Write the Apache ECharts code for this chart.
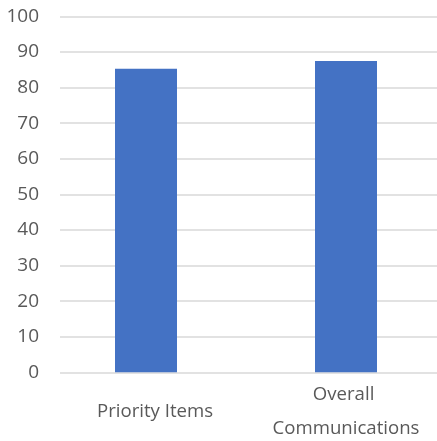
<!DOCTYPE html>
<html><head><meta charset="utf-8">
<script src="https://cdn.jsdelivr.net/npm/echarts@6/dist/echarts.min.js"></script>
<style>html,body{margin:0;padding:0;background:#fff}#c{width:437px;height:441px}</style>
</head><body><div id="c"></div>
<script>
const categories = ['Priority Items', 'Overall Communications'];
const values = [85.3, 87.5];
const yMin = 0, yMax = 100, yStep = 10;

const chart = echarts.init(document.getElementById('c'));
const font = 'Open Sans';
chart.setOption({
  animation: false,
  grid: [
    {left: 60, right: 0, top: 16.5, bottom: 68.7, outerBoundsMode: 'none', containLabel: false},
    {left: 146, width: 200, top: 16.5, bottom: 68.7, outerBoundsMode: 'none', containLabel: false}
  ],
  xAxis: [
    {gridIndex: 0, type: 'category', data: categories, show: false},
    {gridIndex: 1, type: 'category', boundaryGap: false,
     data: categories.map((c, i) => i === 0
       ? {value: c, textStyle: {padding: [0, 0, 0, 18], verticalAlign: 'middle', lineHeight: 34}}
       : c),
     axisLine: {show: false}, axisTick: {show: false},
     axisLabel: {color: '#595959', fontSize: 18.6, fontFamily: font, margin: 39,
       verticalAlign: 'middle', lineHeight: 34, width: 170, overflow: 'break', interval: 0}}
  ],
  yAxis: [
    {gridIndex: 0, type: 'value', min: yMin, max: yMax, interval: yStep,
     axisLine: {show: false}, axisTick: {show: false},
     axisLabel: {color: '#595959', fontSize: 19, fontFamily: font, margin: 21},
     splitLine: {lineStyle: {color: '#d9d9d9', width: 1.5}}},
    {gridIndex: 1, type: 'value', min: yMin, max: yMax, interval: yStep, show: false,
     splitLine: {show: false}}
  ],
  series: [{
    type: 'bar', xAxisIndex: 1, yAxisIndex: 1, data: values, clip: false,
    barWidth: 62, itemStyle: {color: '#4472C4'}
  }]
});
</script></body></html>
